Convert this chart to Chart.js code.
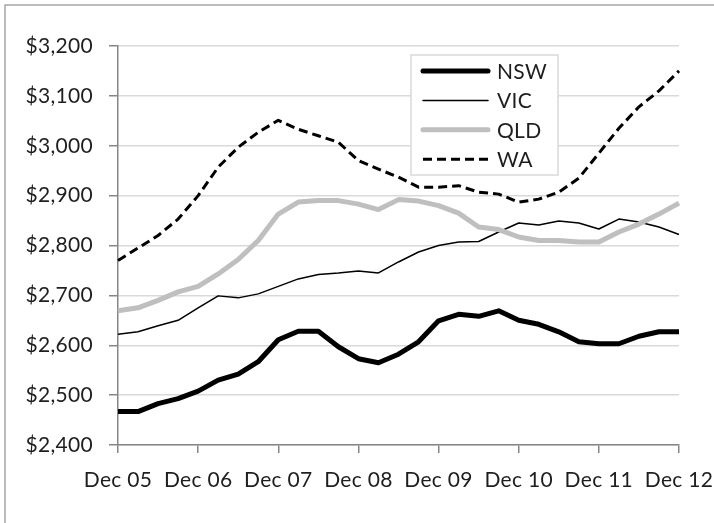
<!DOCTYPE html>
<html>
<head>
<meta charset="utf-8">
<script src="https://cdn.jsdelivr.net/npm/chart.js@4"></script>
<style>
	html, body { margin: 0; padding: 0; background: #fff; }
	canvas { display: block; }
</style>
</head>
<body>
<canvas id="rentcanvas" width="714" height="523"></canvas>
<script>
var quarters = ['Dec 05','Mar 06','Jun 06','Sep 06','Dec 06','Mar 07','Jun 07','Sep 07',
	'Dec 07','Mar 08','Jun 08','Sep 08','Dec 08','Mar 09','Jun 09','Sep 09',
	'Dec 09','Mar 10','Jun 10','Sep 10','Dec 10','Mar 11','Jun 11','Sep 11',
	'Dec 11','Mar 12','Jun 12','Sep 12','Dec 12'];
var yearTicks = ['Dec 05','Dec 06','Dec 07','Dec 08','Dec 09','Dec 10','Dec 11','Dec 12'];

var nsw = [2467, 2467, 2483, 2493, 2508, 2530, 2542, 2567, 2611, 2628, 2628, 2597, 2573, 2565, 2582,
	2607, 2649, 2662, 2658, 2669, 2650, 2642, 2627, 2607, 2603, 2603, 2618, 2627, 2627];
var vic = [2622, 2627, 2639, 2650, 2675, 2699, 2695, 2703, 2718, 2733, 2742, 2745, 2749, 2745, 2767,
	2787, 2800, 2807, 2808, 2827, 2845, 2841, 2849, 2845, 2833, 2853, 2847, 2837, 2822];
var qld = [2669, 2675, 2690, 2707, 2718, 2743, 2772, 2810, 2863, 2887, 2890, 2890, 2883, 2872, 2892,
	2889, 2880, 2865, 2837, 2832, 2817, 2810, 2810, 2807, 2807, 2827, 2843, 2863, 2885];
var wa = [2770, 2795, 2820, 2853, 2900, 2957, 2997, 3027, 3051, 3033, 3020, 3007, 2970, 2953, 2937,
	2917, 2917, 2920, 2907, 2903, 2887, 2893, 2907, 2935, 2985, 3035, 3078, 3110, 3150];

var yMin = 2400, yMax = 3200, yStep = 100;
var fontName = 'Lato';
var fontSize = 21;
var gap = '0.3px';

// spacing tweak, canvas state is reset on resize so set it before layout and draw
var spacing = {
	id: 'spacing',
	beforeUpdate: function(chart) { chart.ctx.letterSpacing = gap; },
	beforeDraw: function(chart) { chart.ctx.letterSpacing = gap; }
};

// outer frame of the chart object (cut off on the right and bottom)
var frame = {
	id: 'frame',
	afterDraw: function(chart) {
		var ctx = chart.ctx;
		ctx.save();
		ctx.strokeStyle = '#a6a6a6';
		ctx.lineWidth = 1.5;
		ctx.strokeRect(5, 5, 1000, 1000);
		ctx.restore();
	}
};

// boxed legend sitting inside the plot
var boxLegend = {
	id: 'boxLegend',
	afterDatasetsDraw: function(chart) {
		var ctx = chart.ctx;
		var x = 411, y = 55, w = 147, h = 120;
		ctx.save();
		ctx.fillStyle = '#fff';
		ctx.fillRect(x, y, w, h);
		ctx.strokeStyle = '#d9d9d9';
		ctx.lineWidth = 1.5;
		ctx.strokeRect(x, y, w, h);
		chart.data.datasets.forEach(function(ds, i) {
			var ly = 71 + i * 29.4;
			ctx.beginPath();
			ctx.strokeStyle = ds.borderColor;
			ctx.lineWidth = ds.borderWidth;
			ctx.lineCap = ds.borderDash ? 'butt' : 'round';
			ctx.setLineDash(ds.borderDash || []);
			ctx.moveTo(423, ly);
			ctx.lineTo(488, ly);
			ctx.stroke();
			ctx.setLineDash([]);
			ctx.fillStyle = '#1e1e1e';
			ctx.font = fontSize + 'px "' + fontName + '"';
			ctx.letterSpacing = gap;
			ctx.textBaseline = 'middle';
			ctx.textAlign = 'left';
			ctx.fillText(ds.label, 497, ly + 1);
		});
		ctx.restore();
	}
};

Chart.defaults.font.family = fontName;
Chart.defaults.font.size = fontSize;
Chart.defaults.color = '#1e1e1e';

var ctx = document.getElementById('rentcanvas').getContext('2d');
window.rentChart = new Chart(ctx, {
	type: 'line',
	data: {
		labels: quarters,
		datasets: [
			{ label: 'NSW', data: nsw, borderColor: '#000', borderWidth: 5, order: 3 },
			{ label: 'VIC', data: vic, borderColor: '#000', borderWidth: 1.5, order: 2 },
			{ label: 'QLD', data: qld, borderColor: '#bfbfbf', borderWidth: 5, order: 1 },
			{ label: 'WA', data: wa, borderColor: '#000', borderWidth: 3, borderDash: [9, 5], order: 0 }
		]
	},
	options: {
		responsive: false,
		animation: false,
		devicePixelRatio: 1,
		layout: { padding: { left: 0, top: 46, right: 35, bottom: 30 } },
		elements: {
			point: { radius: 0 },
			line: { tension: 0, borderJoinStyle: 'round', fill: false }
		},
		plugins: {
			legend: { display: false },
			tooltip: { enabled: false }
		},
		scales: {
			x: {
				offset: false,
				afterFit: function(scale) {
					scale.height = 48;
					scale.paddingLeft = 0;
					scale.paddingRight = 0;
				},
				grid: { drawOnChartArea: false, drawTicks: true, tickLength: 8, color: '#868686', lineWidth: 1.5 },
				border: { color: '#868686', width: 1.5 },
				ticks: {
					autoSkip: false,
					maxRotation: 0,
					padding: 15,
					callback: function(val, i) {
						var lab = quarters[i];
						return yearTicks.indexOf(lab) >= 0 ? lab : null;
					}
				}
			},
			y: {
				min: yMin,
				max: yMax,
				afterFit: function(scale) { scale.width = 118; },
				grid: { color: '#d9d9d9', lineWidth: 1.5, tickLength: 9, tickColor: '#868686' },
				border: { color: '#868686', width: 1.5 },
				ticks: {
					stepSize: yStep,
					padding: 16,
					callback: function(v) { return '$' + v.toLocaleString('en-US'); }
				}
			}
		}
	},
	plugins: [spacing, frame, boxLegend]
});
</script>
</body>
</html>
